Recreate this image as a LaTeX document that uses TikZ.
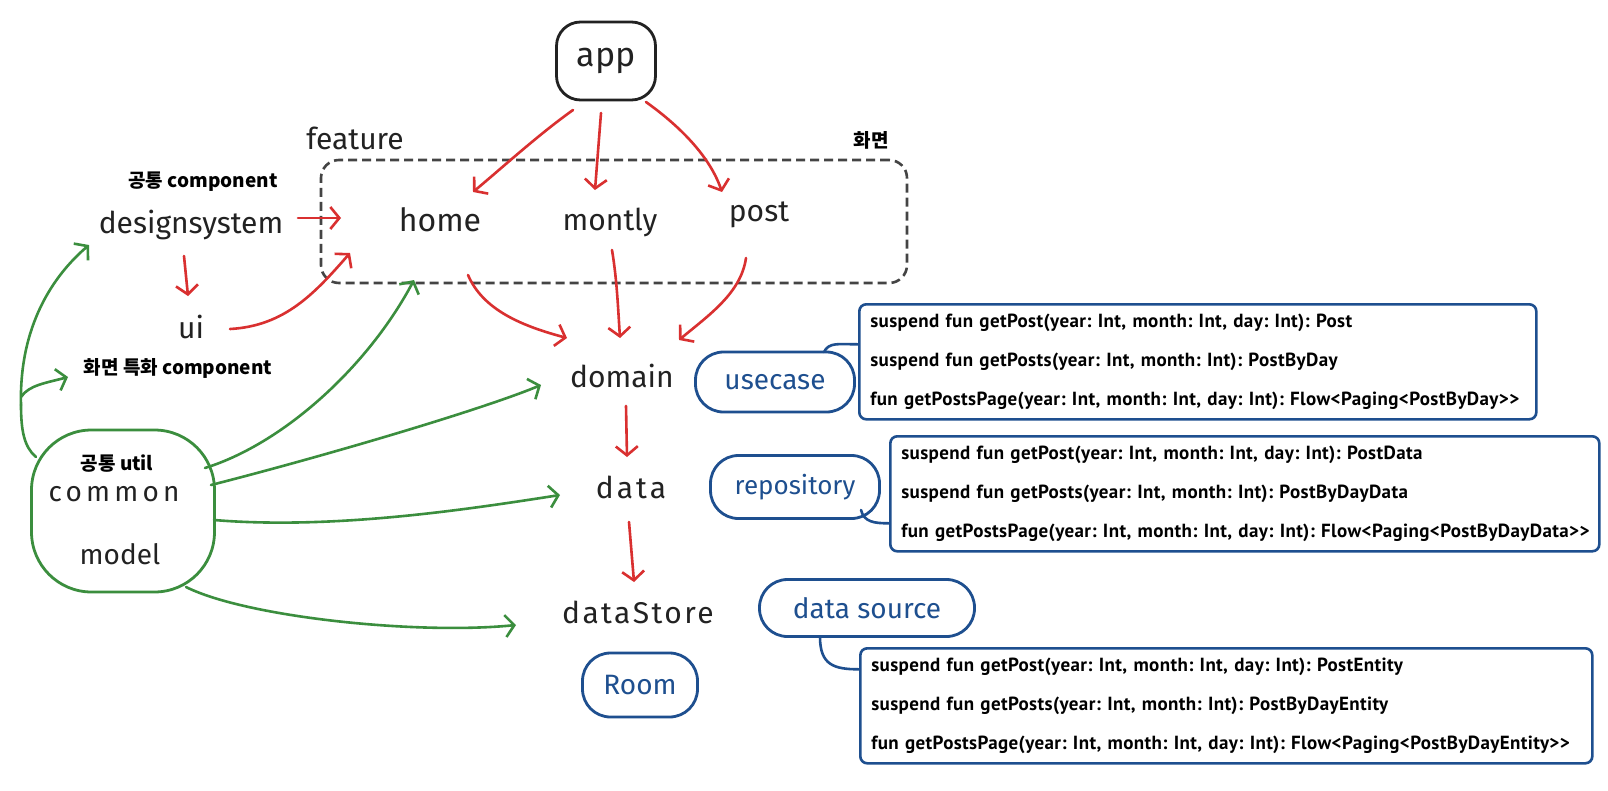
\documentclass[tikz,border=0pt]{standalone}
\usepackage{fontspec}
\setmainfont{Fira Sans}
\newfontfamily\kr{Noto Sans CJK KR}
\newfontfamily\codef{PT Sans}[LetterSpace=2]
\newfontfamily\hand{Fira Sans}
\usetikzlibrary{arrows.meta,calc}
\definecolor{cred}{HTML}{D93030}
\definecolor{cgreen}{HTML}{3B8E3E}
\definecolor{cblue}{HTML}{1E4F8F}
\definecolor{cink}{HTML}{222222}
\definecolor{cdash}{HTML}{444444}
\frenchspacing
\newcommand\codeline[1]{\mbox{#1}}
\tikzset{
  hw/.style={font=\hand\fontsize{#1}{#1}\selectfont, text=cink, inner sep=0pt},
  hw/.default=30,
  kl/.style={font=\kr\bfseries\fontsize{19}{19}\selectfont, text=black, inner sep=0pt},
  blackblob/.style={draw=cink, line width=2.8pt, rounded corners=24pt, minimum width=99pt, minimum height=78pt},
  greenblob/.style={draw=cgreen, line width=2.8pt, rounded corners=60pt},
  blueblob/.style={draw=cblue, line width=2.8pt, rounded corners=28pt, text=cblue, inner sep=0pt},
  featbox/.style={draw=cdash, line width=2.6pt, dash pattern=on 9pt off 5pt, rounded corners=18pt},
  codebox/.style={draw=cblue, line width=2.6pt, rounded corners=7pt, inner xsep=11pt, inner ysep=0pt, align=left, text=black,
    font=\codef\bfseries\fontsize{19}{39}\selectfont, minimum height=115pt, anchor=north west},
  redarr/.style={draw=cred, line width=2.6pt, line cap=round, line join=round, -{Straight Barb[length=9pt,width=22pt]}},
  greenarr/.style={draw=cgreen, line width=2.6pt, line cap=round, line join=round, -{Straight Barb[length=9pt,width=22pt]}},
  greenline/.style={draw=cgreen, line width=2.6pt, line cap=round, line join=round},
  bline/.style={draw=cblue, line width=2.6pt, line cap=round},
}
\begin{document}
\begin{tikzpicture}[x=1pt,y=-1pt]
\useasboundingbox[fill=white] (0,0) rectangle (1608,790);
% top
\node[blackblob, hw=34] (app) at (606,61) {app};
\node[featbox, minimum width=586pt, minimum height=123pt] (feat) at (614,221.5) {};
\node[hw] (featlbl) at (355,138) {feature};
\node[kl] (screenlbl) at (871,140) {화면};
\node[hw=32] (home) at (440,220) {home};
\node[hw] (montly) at (610,222) {montly};
\node[hw] (post) at (759,215) {post};
% left
\node[kl] (dscap) at (203,182) {공통 component};
\node[hw] (ds) at (191,225) {designsystem};
\node[hw] (ui) at (191,327) {ui};
\node[kl] (scc) at (178,368) {화면 특화 component};
\node[greenblob, minimum width=183pt, minimum height=162pt] (cm) at (123,511) {};
\node[kl] (utilcap) at (117,464) {공통 util};
\node[hw=28, font=\hand\fontsize{28}{28}\selectfont\addfontfeature{LetterSpace=15}] (common) at (114,494) {common};
\node[hw=28] (model) at (120,554) {model};
% center column
\node[hw] (domain) at (622,376) {domain};
\node[hw, font=\hand\fontsize{30}{30}\selectfont\addfontfeature{LetterSpace=10}] (data) at (631,487) {data};
\node[hw, font=\hand\fontsize{30}{30}\selectfont\addfontfeature{LetterSpace=8}] (store) at (638,612) {dataStore};
\node[blueblob, minimum width=115pt, minimum height=64pt, font=\hand\fontsize{28}{28}\selectfont] (room) at (640,685) {Room};
% blue labels
\node[blueblob, minimum width=159pt, minimum height=60pt, font=\hand\fontsize{28}{28}\selectfont] (uc) at (775,382) {usecase};
\node[blueblob, minimum width=169pt, minimum height=63pt, font=\hand\fontsize{26}{26}\selectfont] (repo) at (795,487) {repository};
\node[blueblob, minimum width=215pt, minimum height=57pt, font=\hand\fontsize{28}{28}\selectfont] (dsrc) at (867,608) {data source};
% code boxes
\node[codebox, text width=655pt] (ucbox) at (858,303) {\codeline{suspend fun getPost(year: Int, month: Int, day: Int): Post}\\\codeline{suspend fun getPosts(year: Int, month: Int): PostByDay}\\\codeline{fun getPostsPage(year: Int, month: Int, day: Int): Flow<Paging<PostByDay>{}>}};
\node[codebox, text width=687pt] (repobox) at (889,435) {\codeline{suspend fun getPost(year: Int, month: Int, day: Int): PostData}\\\codeline{suspend fun getPosts(year: Int, month: Int): PostByDayData}\\\codeline{fun getPostsPage(year: Int, month: Int, day: Int): Flow<Paging<PostByDayData>{}>}};
\node[codebox, text width=710pt] (dsbox) at (859,647) {\codeline{suspend fun getPost(year: Int, month: Int, day: Int): PostEntity}\\\codeline{suspend fun getPosts(year: Int, month: Int): PostByDayEntity}\\\codeline{fun getPostsPage(year: Int, month: Int, day: Int): Flow<Paging<PostByDayEntity>{}>}};
% red arrows
\draw[redarr] ($(app)+(-33,49)$) .. controls +(-35,25) and +(30,-25) .. ($(home)+(33,-28)$);
\draw[redarr] ($(app)+(-5,52)$) -- ($(montly)+(-15,-32)$);
\draw[redarr] ($(app)+(40,41)$) .. controls +(35,25) and +(-12,-35) .. ($(post)+(-37,-23)$);
\draw[redarr] ($(ds)+(107,-7)$) -- ($(home)+(-99,-2)$);
\draw[redarr] ($(ds)+(-7,31)$) -- ($(ui)+(-3,-31)$);
\draw[redarr] ($(ui)+(39,2)$) .. controls +(55,-3) and +(-35,40) .. ($(home)+(-90,33)$);
\draw[redarr] ($(home)+(28,55)$) .. controls +(15,35) and +(-45,-12) .. ($(domain)+(-55,-38)$);
\draw[redarr] ($(montly)+(2,28)$) .. controls +(5,30) and +(-2,-30) .. ($(domain)+(-2,-38)$);
\draw[redarr] ($(post)+(-13,43)$) .. controls +(-5,35) and +(30,-25) .. ($(domain)+(57,-36)$);
\draw[redarr] ($(domain)+(4,30)$) -- ($(data)+(-4,-30)$);
\draw[redarr] ($(data)+(-2,35)$) -- ($(store)+(-4,-30)$);
% green arrows
\draw[greenline] ($(cm)+(-87,-54)$) .. controls +(-12,-10) and +(0,25) .. ($(cm)+(-102,-106)$) coordinate (gj);
\draw[greenarr] (gj) .. controls +(-2,-80) and +(-35,30) .. ($(ds)+(-102,20)$);
\draw[greenarr] ($(gj)+(0,-8)$) .. controls +(8,-12) and +(-22,6) .. ($(scc)+(-110,9)$);
\draw[greenarr] ($(cm)+(82,-43)$) .. controls +(80,-25) and +(-45,85) .. ($(home)+(-26,60)$);
\draw[greenarr] ($(cm)+(88,-26)$) .. controls +(110,-28) and +(-60,25) .. ($(domain)+(-81,9)$);
\draw[greenarr] ($(cm)+(91,9)$) .. controls +(120,10) and +(-90,14) .. ($(data)+(-71,8)$);
\draw[greenarr] ($(cm)+(63,76)$) .. controls +(60,30) and +(-100,10) .. ($(store)+(-122,13)$);
% blue connectors
\draw[bline] ($(uc)+(49,-30)$) .. controls +(5,-10) and +(-20,0) .. ($(ucbox.west)+(0,-17.5)$);
\draw[bline] ($(repo)+(66,23)$) .. controls +(3,12) and +(-15,0) .. ($(repobox.west)+(0,29.5)$);
\draw[bline] ($(dsrc)+(-47,29)$) .. controls +(0,28) and +(-25,0) .. ($(dsbox.west)+(0,-36.5)$);
\end{tikzpicture}
\end{document}
